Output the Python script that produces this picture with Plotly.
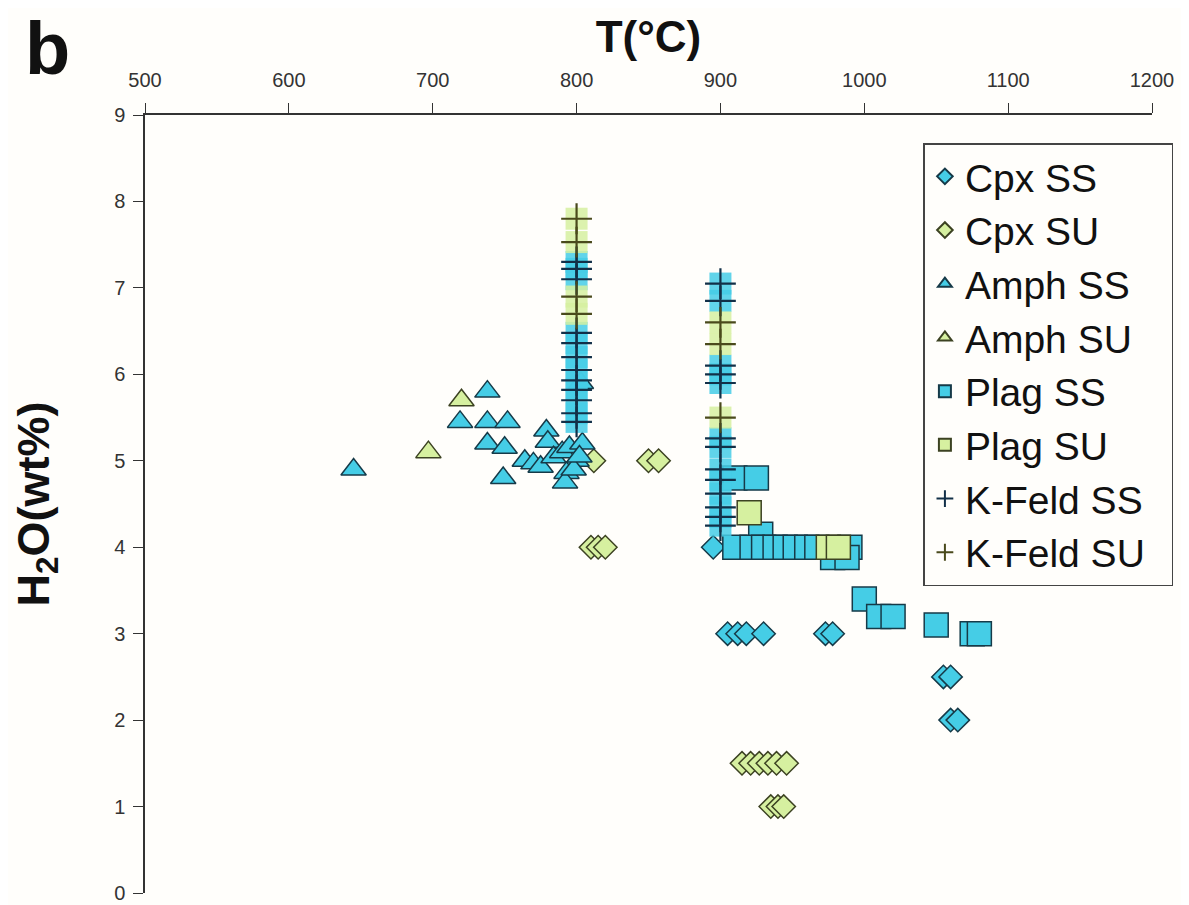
import plotly.graph_objects as go

# ---- data (T in °C, H2O in wt%) ----
cpx_ss_t = [895, 905, 912, 918, 930, 973, 978, 1055, 1060, 1060, 1065]
cpx_ss_h = [4.0, 3.0, 3.0, 3.0, 3.0, 3.0, 3.0, 2.5, 2.5, 2.0, 2.0]

cpx_su_t = [812, 850, 857, 810, 815, 820, 915, 921, 927, 933, 939, 946, 935, 940, 944]
cpx_su_h = [5.0, 5.0, 5.0, 4.0, 4.0, 4.0, 1.5, 1.5, 1.5, 1.5, 1.5, 1.5, 1.0, 1.0, 1.0]

amph_ss_t = [645, 738, 719, 738, 752, 738, 750, 749, 764, 779, 780, 770, 775, 784,
             790, 795, 800, 804, 793, 792, 798, 802, 803]
amph_ss_h = [4.9, 5.8, 5.45, 5.45, 5.45, 5.2, 5.15, 4.8, 5.0, 5.35, 5.22, 4.97, 4.93, 5.04,
             5.1, 5.16, 5.0, 5.2, 4.86, 4.75, 4.9, 5.05, 5.9]

amph_su_t = [720, 697]
amph_su_h = [5.7, 5.1]

plag_ss_t = [910, 925, 928, 910, 922, 930, 938, 945, 952, 960, 967, 990, 978, 988,
             1000, 1010, 1020, 1050, 1075, 1080]
plag_ss_h = [4.8, 4.8, 4.15, 4.0, 4.0, 4.0, 4.0, 4.0, 4.0, 4.0, 4.0, 4.0, 3.88, 3.88,
             3.4, 3.2, 3.2, 3.1, 3.0, 3.0]

plag_su_t = [920, 975, 982]
plag_su_h = [4.4, 4.0, 4.0]

kf_ss_t = [800] * 12 + [900] * 13
kf_ss_h = [7.3, 7.22, 7.1, 6.48, 6.36, 6.2, 6.05, 5.93, 5.82, 5.7, 5.55, 5.45,
           7.05, 6.85, 6.1, 6.0, 5.9, 5.26, 5.16, 4.9, 4.78, 4.62, 4.46, 4.35, 4.25]

kf_su_t = [800, 800, 800, 800, 900, 900, 900]
kf_su_h = [7.8, 7.53, 6.9, 6.7, 6.6, 6.35, 5.5]

x_ticks = [500, 600, 700, 800, 900, 1000, 1100, 1200]
y_ticks = [0, 1, 2, 3, 4, 5, 6, 7, 8, 9]

CYAN = "#45cde6"
CYAN_EDGE = "#163a48"
LIME = "#d6f0a0"
LIME_EDGE = "#3c4222"
BG = "#fffefb"
PAD = "\u00a0" * 2   # widen legend box like the reference

fig = go.Figure()

def add(t, h, name, symbol, size, fill, edge):
    fig.add_trace(go.Scatter(
        x=t, y=h, mode="markers", name=name,
        marker=dict(symbol=symbol, size=size, color=fill,
                    line=dict(color=edge, width=1.5)),
    ))

add(cpx_ss_t, cpx_ss_h, "Cpx SS", "diamond", 18, CYAN, CYAN_EDGE)
add(cpx_su_t, cpx_su_h, "Cpx SU", "diamond", 18, LIME, LIME_EDGE)
add(amph_ss_t, amph_ss_h, "Amph SS", "triangle-up", 22, CYAN, CYAN_EDGE)
add(amph_su_t, amph_su_h, "Amph SU", "triangle-up", 22, LIME, LIME_EDGE)
add(plag_ss_t, plag_ss_h, "Plag SS", "square", 24, CYAN, CYAN_EDGE)
add(plag_su_t, plag_su_h, "Plag SU", "square", 24, LIME, LIME_EDGE)

# K-Feld: coloured cells behind thin crosses
kf = [(kf_ss_t, kf_ss_h, CYAN, "#123048", "K-Feld SS"),
      (kf_su_t, kf_su_h, LIME, "#4a4a1c", "K-Feld SU" + PAD)]
for t, h, fill, edge, name in kf:
    fig.add_trace(go.Scatter(
        x=t, y=h, mode="markers", showlegend=False, hoverinfo="skip",
        marker=dict(symbol="square", size=22, color=fill, opacity=0.85, line=dict(width=0)),
    ))
for t, h, fill, edge, name in kf:
    fig.add_trace(go.Scatter(
        x=t, y=h, mode="markers", name=name,
        marker=dict(symbol="cross-thin", size=22, color=edge, line=dict(color=edge, width=2.2)),
    ))

# the page body adds an 8px offset; size the figure so the plot lands at (145,115)-(1152,893)
fig.update_layout(
    width=1181, height=897,
    margin=dict(l=137, r=37, t=107, b=12, autoexpand=False),
    paper_bgcolor=BG, plot_bgcolor=BG,
    font=dict(family="Liberation Sans, Arial, sans-serif", color="#222"),
    showlegend=True,
    legend=dict(
        x=0.773, y=0.964, xanchor="left", yanchor="top",
        bgcolor=BG, bordercolor="#444", borderwidth=1.5,
        font=dict(size=39, color="#111"),
        itemsizing="constant", tracegroupgap=0,
    ),
    annotations=[dict(text="<b>b</b>", xref="paper", yref="paper",
                      x=-0.097, y=1.085, xanchor="center", yanchor="middle",
                      showarrow=False, font=dict(size=74, color="#111"))],
)

fig.update_xaxes(
    side="top", range=[500, 1200], tickvals=x_ticks, automargin=False,
    ticks="outside", ticklen=10, tickwidth=1.2, tickcolor="#333",
    showline=True, linecolor="#333", linewidth=1.5, showgrid=False, zeroline=False,
    tickfont=dict(size=20, color="#333"), ticklabelstandoff=8,
    title=dict(text="<b>T(°C)</b>", font=dict(size=44, color="#111"), standoff=3),
)
fig.update_yaxes(
    range=[0, 9], tickvals=y_ticks, automargin=False,
    ticks="outside", ticklen=10, tickwidth=1.2, tickcolor="#333",
    showline=True, linecolor="#333", linewidth=1.5, showgrid=False, zeroline=False,
    tickfont=dict(size=20, color="#333"), ticklabelstandoff=4,
    title=dict(text="<b>H<sub>2</sub>O(wt%)</b>", font=dict(size=45, color="#111"), standoff=52),
)

fig.write_html("out.html")
